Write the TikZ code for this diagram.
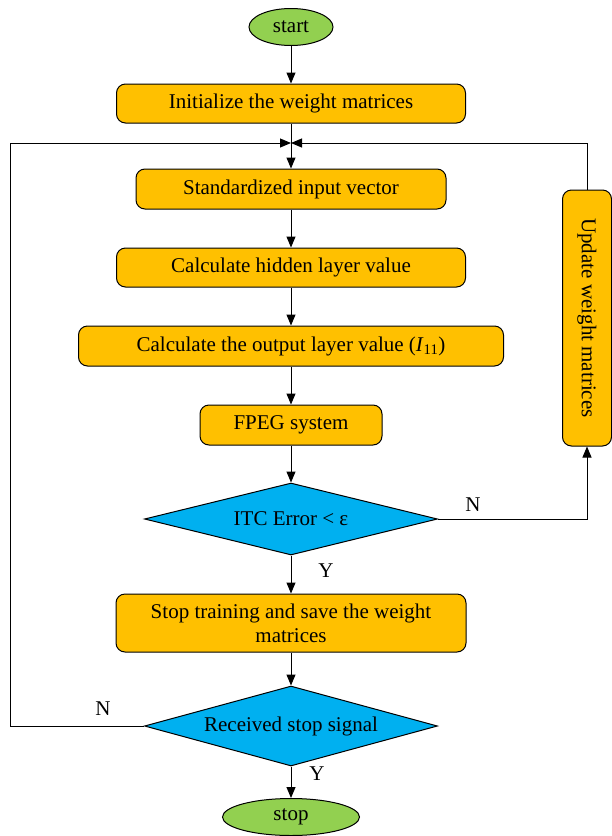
\documentclass[tikz,border=0pt]{standalone}
\usepackage{fontspec}
\usepackage{graphicx}
\setmainfont{Liberation Serif}
\usetikzlibrary{shapes.geometric,arrows.meta}
\definecolor{boxorange}{HTML}{FFC000}
\definecolor{testblue}{HTML}{00B0F0}
\definecolor{endgreen}{HTML}{92D050}

\begin{document}
\begin{tikzpicture}[x=1pt,y=-1pt,>={Triangle[length=11pt,width=9pt]},line width=1pt,
  font=\fontsize{21}{24}\selectfont,
  box/.style={draw,rounded corners=9pt,fill=boxorange,minimum height=39pt,inner sep=2pt},
  test/.style={draw,diamond,fill=testblue,aspect=4.07,inner sep=0pt,minimum width=293pt,minimum height=72pt},
  term/.style={draw,ellipse,fill=endgreen,inner sep=0pt}]
\useasboundingbox (0,0) rectangle (612,836);
\node[term,minimum width=84pt,minimum height=37pt] (start) at (291,27) {start};
\node[box,minimum width=349pt] (init) at (291,103.5) {Initialize the weight matrices};
\coordinate (J) at (291,143);
\node[box,minimum width=310pt,minimum height=40pt] (std) at (291,189) {Standardized input vector};
\node[box,minimum width=349pt] (hid) at (291,267.5) {Calculate hidden layer value};
\node[box,minimum width=425pt,minimum height=40pt] (out) at (291,346) {Calculate the output layer value (\textit{I}\textsubscript{11})};
\node[box,minimum width=182pt,minimum height=40pt] (fpeg) at (291,425) {FPEG system};
\node[test] (itc) at (291,519) {ITC Error < ε};
\node[box,minimum width=49pt,minimum height=256pt] (upd) at (587,318) {\rotatebox{-90}{Update weight matrices}};
\node[box,minimum width=350pt,minimum height=58pt,align=center] (save) at (291,623) {Stop training and save the weight\\matrices};
\node[test,minimum height=80pt] (recv) at (291,726) {Received stop signal};
\node[term,minimum width=137pt,minimum height=37pt] (stop) at (291,817) {stop};
%
\node (n1) at (473,505) {N};
\node (y1) at (326,571) {Y};
\node (n2) at (103,709) {N};
\node (y2) at (317,774) {Y};
\coordinate (lft) at (10,726);
%
\draw[->] (start) -- (init);
\draw (init) -- (J);
\draw[->] (J) -- (std);
\draw[->] (std) -- (hid);
\draw[->] (hid) -- (out);
\draw[->] (out) -- (fpeg);
\draw[->] (fpeg) -- (itc);
\draw[->] (itc.east) -| (upd.south);
\draw[->] (upd.north) |- (J);
\draw[->] (itc.south) -- (save);
\draw[->] (save) -- (recv);
\draw[->] (recv.south) -- (stop);
\draw[->] (recv.west) -- (lft) |- (J);
\end{tikzpicture}
\end{document}
